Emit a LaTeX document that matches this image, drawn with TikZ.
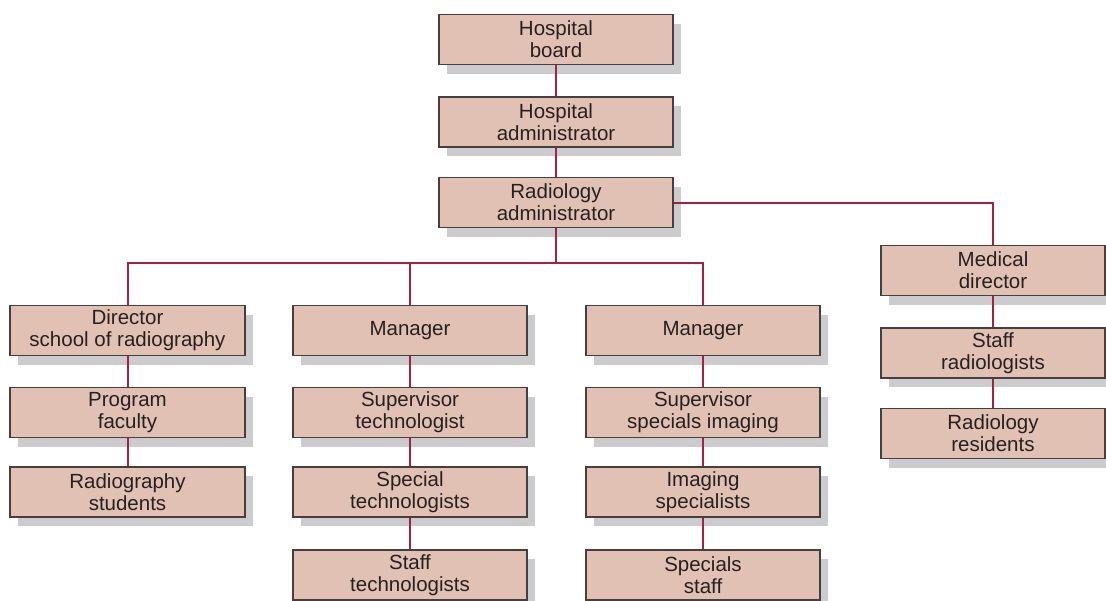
\documentclass[tikz,border=0pt]{standalone}
\usepackage{fontspec}
\setmainfont{Liberation Sans}
\usepackage{tikz}
\usetikzlibrary{shadows}

\definecolor{boxfill}{RGB}{226,193,181}
\definecolor{boxline}{RGB}{72,62,62}
\definecolor{linkred}{RGB}{165,32,68}
\definecolor{shadowgrey}{RGB}{204,204,206}
\definecolor{textgrey}{RGB}{38,32,32}

\begin{document}
\begin{tikzpicture}[x=1pt, y=-1pt,
        box/.style={draw=boxline, line width=1.4pt, fill=boxfill, text=textgrey,
            minimum width=234pt, minimum height=50pt, align=center, inner sep=0pt,
            font=\fontsize{20.5}{22}\selectfont,
            drop shadow={shadow xshift=8pt, shadow yshift=-9pt, fill=shadowgrey, opacity=1}},
        link/.style={draw=linkred, line width=2pt}]
        \useasboundingbox (0,0) rectangle (1106,600);

        % top of the chart
        \node[box] (board) at (556,39.5) {Hospital\\board};
        \node[box] (hadmin) at (556,122) {Hospital\\administrator};
        \node[box] (radadmin) at (556,202.5) {Radiology\\administrator};
        \coordinate (bus) at (556,263);

        % school column
        \node[box, minimum width=235pt] (dirschool) at (127.5,330.5) {Director\\school of radiography};
        \node[box, minimum width=235pt] (faculty) at (127.5,412.5) {Program\\faculty};
        \node[box, minimum width=235pt] (students) at (127.5,492) {Radiography\\students};

        % technologist column
        \node[box] (mgrtech) at (410,330.5) {Manager};
        \node[box] (suptech) at (410,412.5) {Supervisor\\technologist};
        \node[box] (spectech) at (410,492) {Special\\technologists};
        \node[box] (stafftech) at (410,575) {Staff\\technologists};

        % imaging column
        \node[box] (mgrimg) at (703,330.5) {Manager};
        \node[box] (supimg) at (703,412.5) {Supervisor\\specials imaging};
        \node[box] (imgspec) at (703,492) {Imaging\\specialists};
        \node[box] (specstaff) at (703,575) {Specials\\staff};

        % medical column
        \node[box, minimum width=224pt] (meddir) at (993,270.5) {Medical\\director};
        \node[box, minimum width=224pt] (staffrad) at (993,353) {Staff\\radiologists};
        \node[box, minimum width=224pt] (residents) at (993,433.5) {Radiology\\residents};

        \draw[link] (board) -- (hadmin);
        \draw[link] (hadmin) -- (radadmin);
        \draw[link] (radadmin) -- (bus);
        \draw[link] (dirschool.north) |- (bus);
        \draw[link] (mgrtech.north) |- (bus);
        \draw[link] (mgrimg.north) |- (bus);
        \draw[link] (radadmin.east) -| (meddir.north);

        \draw[link] (dirschool) -- (faculty);
        \draw[link] (faculty) -- (students);
        \draw[link] (mgrtech) -- (suptech);
        \draw[link] (suptech) -- (spectech);
        \draw[link] (spectech) -- (stafftech);
        \draw[link] (mgrimg) -- (supimg);
        \draw[link] (supimg) -- (imgspec);
        \draw[link] (imgspec) -- (specstaff);
        \draw[link] (meddir) -- (staffrad);
        \draw[link] (staffrad) -- (residents);
    \end{tikzpicture}
\end{document}
